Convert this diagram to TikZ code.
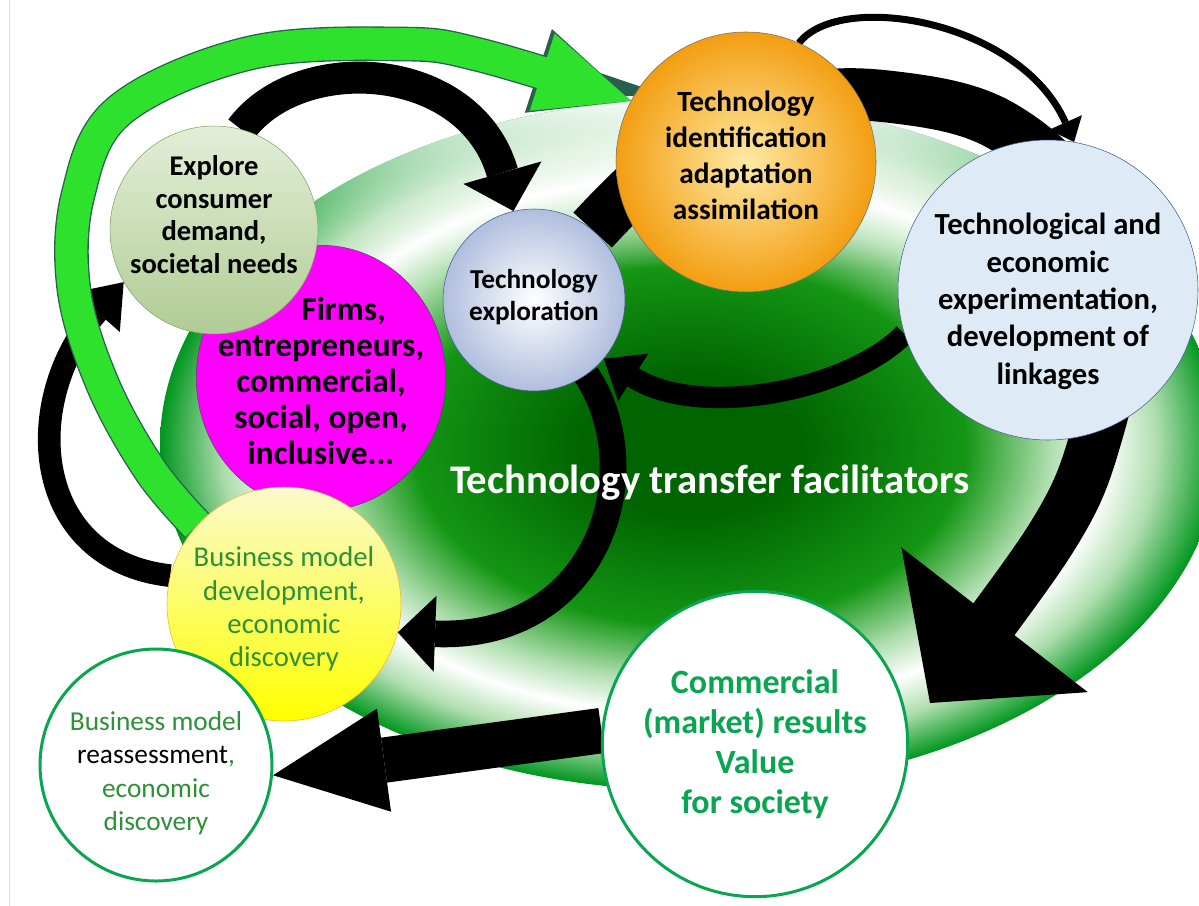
\documentclass[tikz,border=0pt]{standalone}
\usepackage{fontspec}
\setmainfont{Carlito}
\usetikzlibrary{arrows.meta,shapes.geometric,fadings}

\definecolor{gcore}{RGB}{0,100,0}
\definecolor{gmid}{RGB}{20,150,20}
\definecolor{glight}{RGB}{175,222,175}
\definecolor{grim}{RGB}{0,150,30}
\definecolor{garrow}{RGB}{45,225,45}
\definecolor{gline}{RGB}{40,95,80}
\definecolor{gborder}{RGB}{10,165,80}
\definecolor{gtext}{RGB}{45,145,55}
\definecolor{magentafill}{RGB}{255,0,255}
\definecolor{magentaedge}{RGB}{90,60,120}
\definecolor{exploretop}{RGB}{228,238,216}
\definecolor{explorebot}{RGB}{176,204,148}
\definecolor{exploreedge}{RGB}{130,165,90}
\definecolor{explshade}{RGB}{176,190,222}
\definecolor{expledge}{RGB}{70,90,150}
\definecolor{yellowtop}{RGB}{250,250,205}
\definecolor{yellowedge}{RGB}{240,180,40}
\definecolor{orangein}{RGB}{255,234,165}
\definecolor{orangeout}{RGB}{243,158,18}
\definecolor{orangeedge}{RGB}{110,110,110}
\definecolor{bluefill}{RGB}{222,234,246}
\definecolor{blueedge}{RGB}{70,90,140}

\pgfdeclarelayer{back}
\pgfdeclarelayer{arrows}
\pgfsetlayers{back,arrows,main}

\pgfdeclareradialshading{greenglow}{\pgfpoint{0bp}{0bp}}{color(0bp)=(gcore); color(5bp)=(gcore); color(13bp)=(gmid); color(17bp)=(glight); color(19.5bp)=(white); color(22bp)=(glight); color(25bp)=(grim); color(50bp)=(grim)}
\tikzfading[name=topfade, top color=transparent!0, bottom color=transparent!100]

\tikzset{
  bubble/.style={circle, draw, inner sep=-20pt, align=center, font=\bfseries, text depth=0pt},
  fattip/.style={-{Triangle[#1, line width=0pt]}}
}

\begin{document}
\begin{tikzpicture}[x=0.75pt,y=-0.75pt]
    \useasboundingbox (0,0) rectangle (1199,906);
    \draw[gray!25, line width=0.75pt] (9,0) -- (9,906);

    % Circles, back to front
    \node[bubble, ellipse, fill=magentafill, draw=magentaedge, minimum width=187pt, minimum height=199pt, text height=129pt, font=\bfseries\fontsize{25}{27}\selectfont] (firms) at (321,378) {\hspace*{34pt}Firms,\\entrepreneurs,\\commercial,\\social, open,\\inclusive...};
    \node[bubble, top color=exploretop, bottom color=explorebot, draw=exploreedge, minimum size=156pt, text height=65pt, font=\bfseries\fontsize{21.4}{24.5}\selectfont] (explore) at (214,230) {Explore\\consumer\\demand,\\societal needs};
    \node[bubble, inner color=white, outer color=explshade, draw=expledge, minimum size=136.5pt, text height=30pt, font=\bfseries\fontsize{20.5}{23.5}\selectfont] (explor) at (534,300) {Technology\\exploration};
    \node[bubble, top color=yellowtop, bottom color=yellow, draw=yellowedge, minimum size=175.5pt, text height=94pt, font=\fontsize{21.5}{25}\selectfont, text=gtext] (bizdev) at (284,604) {Business model\\development,\\economic\\discovery};
    \node[bubble, fill=white, draw=gborder, line width=2.25pt, minimum size=174pt, text height=98pt, font=\fontsize{20.5}{25}\selectfont, text=gtext] (bizre) at (156,765) {Business model\\{\color{black}reassessment},\\economic\\discovery};
    \node[bubble, inner color=orangein, outer color=orangeout, draw=orangeedge, minimum size=195pt, text height=86pt, font=\bfseries\fontsize{22}{27}\selectfont] (techid) at (746,162) {Technology\\identification\\adaptation\\assimilation};
    \node[bubble, fill=bluefill, draw=blueedge, minimum size=225pt, text height=141pt, font=\bfseries\fontsize{23}{28}\selectfont] (experiment) at (1048,290) {Technological and\\economic\\experimentation,\\development of\\linkages};
    \node[bubble, fill=white, draw=gborder, line width=2.25pt, minimum size=229pt, text height=104pt, font=\bfseries\fontsize{25.5}{30}\selectfont, text=gborder] (market) at (755,744) {Commercial\\(market) results\\Value\\for society};

    \node[text=white, font=\bfseries\fontsize{30.5}{34}\selectfont] (facilitators) at (710,483) {Technology transfer facilitators};
    \coordinate (bigtip) at (930,703);

    % Green ellipse behind everything, paler at the top
    \begin{pgfonlayer}{back}
        \shade[shading=greenglow] (690,445) ellipse [x radius=397.5pt, y radius=259pt];
        \begin{scope}
            \clip (690,445) ellipse [x radius=397.5pt, y radius=259pt];
            \fill[white, path fading=topfade] (150,95) rectangle (1230,270);
        \end{scope}
    \end{pgfonlayer}

    % Black and green loops
    \begin{pgfonlayer}{arrows}
        \draw[line width=39pt, fattip={length=79pt, width=177pt}] plot[smooth, tension=0.6] coordinates {(explor.50) (680,150) (800,100) (900,98) (1000,125) (1080,200) (1115,320) (1095,440) (1050,540) (bigtip)};
        \draw[line width=24pt, fattip={length=30pt, width=61pt}] (explore.75) .. controls (300,50) and (470,60) .. (explor.103);
        \draw[line width=5.25pt, fattip={length=16pt, width=27pt}] (techid.66) .. controls (840,-10) and (1020,20) .. (experiment.80);
        \draw[line width=16pt, fattip={length=26pt, width=42pt}] (experiment.197) .. controls (850,390) and (700,420) .. (explor.-40);
        \draw[line width=20pt, fattip={length=28pt, width=57pt}] (explor.-55) .. controls (650,470) and (600,640) .. (bizdev.-14);
        \draw[line width=17pt, fattip={length=30pt, width=45pt}] (bizdev.166) .. controls (30,560) and (20,400) .. (explore.210);
        \draw[line width=34pt, fattip={length=84pt, width=78pt}] (market.175) -- (bizre.-5);

        % Green loop with its dark rim
        \draw[line width=26pt, draw=gline, fattip={length=73pt, width=66pt}] plot[smooth, tension=0.6] coordinates {(bizdev.138) (150,470) (103,385) (74,290) (78,195) (120,110) (250,53) (400,44) (480,55) (techid.152)};
        \draw[line width=24pt, draw=garrow, fattip={length=70pt, width=61pt}] plot[smooth, tension=0.6] coordinates {(bizdev.138) (150,470) (103,385) (74,290) (78,195) (120,110) (250,53) (400,44) (480,55) (techid.152)};
    \end{pgfonlayer}
\end{tikzpicture}
\end{document}
